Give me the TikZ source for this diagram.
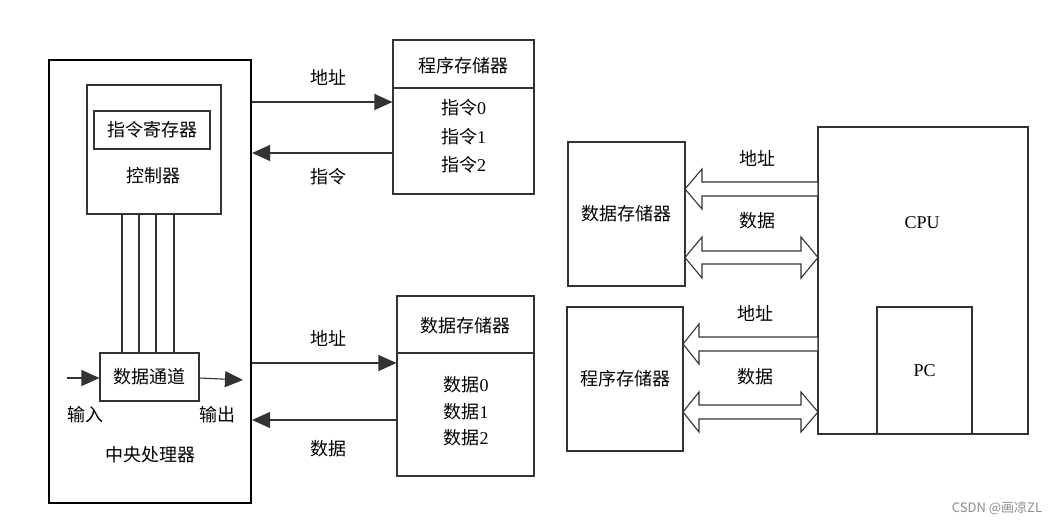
\documentclass[tikz,border=0pt]{standalone}
\usepackage{fontspec}
\setmainfont{Liberation Serif}
\newfontfamily\cjk{Noto Sans CJK SC}[Scale=1]
\usetikzlibrary{arrows.meta,calc}
\begin{document}
\begin{tikzpicture}[x=1pt,y=-1pt,
  line/.style={draw=black!80,line width=1.1pt},
  box/.style={line,rectangle,inner sep=0pt,font=\fontsize{18}{21}\selectfont},
  lbl/.style={inner sep=0pt,font=\fontsize{18}{21}\selectfont},
  arr/.style={line,-{Triangle[length=18pt,width=16pt]}},
  fat/.style={line,fill=white}]
\useasboundingbox (0,0) rectangle (1063,523);
% ---------- left: CPU ----------
\node[box,draw=black,line width=2.2pt,minimum width=202,minimum height=443] (cpu) at (150,281.5) {};
\node[box,minimum width=134,minimum height=129] (ctrl) at (154,149.5) {};
\node[box,minimum width=116,minimum height=38] (ir) at (152,130) {\cjk 指令寄存器};
\node[lbl] (ctrltxt) at (153,176) {\cjk 控制器};
\node[box,minimum width=99,minimum height=48] (dp) at (149.5,377) {\cjk 数据通道};
\foreach \xx in {122,139,156,174}
  \draw[line] (ctrl.south -| \xx,0) -- (dp.north -| \xx,0);
\coordinate (inp) at (67,378);
\coordinate (outp) at (243,380);
\draw[arr] (inp) -- (dp.west |- inp);
\draw[arr] (dp.east |- inp) -- (outp);
\node[lbl] (intxt) at (85,415) {\cjk 输入};
\node[lbl] (outtxt) at (217,415) {\cjk 输出};
\node[lbl] (cputxt) at (150,455) {\cjk 中央处理器};
% ---------- program memory ----------
\node[box,minimum width=141,minimum height=154] (pm) at (463.5,117) {};
\draw[line] (pm.west |- 0,88) -- (pm.east |- 0,88);
\node[lbl] (pmt) at (463.5,66) {\cjk 程序存储器};
\node[lbl] (pm0) at (463.5,108) {{\cjk 指令}0};
\node[lbl] (pm1) at (463.5,137) {{\cjk 指令}1};
\node[lbl] (pm2) at (463.5,165) {{\cjk 指令}2};
\draw[arr] (cpu.east |- 0,102) -- (pm.west |- 0,102);
\draw[arr] (pm.west |- 0,153) -- (cpu.east |- 0,153);
\node[lbl] (a1) at (328,77) {\cjk 地址};
\node[lbl] (i1) at (328,177) {\cjk 指令};
% ---------- data memory ----------
\node[box,minimum width=137,minimum height=180] (dm) at (465.5,386) {};
\draw[line] (dm.west |- 0,353) -- (dm.east |- 0,353);
\node[lbl] (dmt) at (465.5,326) {\cjk 数据存储器};
\node[lbl] (dm0) at (466,385) {{\cjk 数据}0};
\node[lbl] (dm1) at (466,412) {{\cjk 数据}1};
\node[lbl] (dm2) at (466,438) {{\cjk 数据}2};
\draw[arr] (cpu.east |- 0,363) -- (dm.west |- 0,363);
\draw[arr] (dm.west |- 0,420) -- (cpu.east |- 0,420);
\node[lbl] (a2) at (328,338) {\cjk 地址};
\node[lbl] (d2) at (328,449) {\cjk 数据};
% ---------- right: Harvard ----------
\node[box,minimum width=117,minimum height=144] (rdm) at (626.5,214) {\cjk 数据存储器};
\node[box,minimum width=116,minimum height=144] (rpm) at (625,379) {\cjk 程序存储器};
\node[box,minimum width=210,minimum height=307] (rcpu) at (923,280.5) {};
\node[lbl] (rcputxt) at (922,223) {CPU};
\node[box,minimum width=95,minimum height=127] (pc) at (924.5,370.5) {PC};
% hollow arrows
\draw[fat] (685,189) -- (702,169) -- (702,182) -- (818,182) -- (818,196) -- (702,196) -- (702,209) -- cycle;
\draw[fat] (685,257.5) -- (702,237) -- (702,251) -- (801,251) -- (801,237) -- (818,257.5) -- (801,278) -- (801,264) -- (702,264) -- (702,278) -- cycle;
\draw[fat] (683,344) -- (699,324) -- (699,337) -- (818,337) -- (818,351) -- (699,351) -- (699,364) -- cycle;
\draw[fat] (683,412) -- (699,392) -- (699,405) -- (801,405) -- (801,392) -- (818,412) -- (801,432) -- (801,419) -- (699,419) -- (699,432) -- cycle;
\node[lbl] (ra1) at (757,158) {\cjk 地址};
\node[lbl] (rd1) at (757,221) {\cjk 数据};
\node[lbl] (ra2) at (755,313) {\cjk 地址};
\node[lbl] (rd2) at (755,377) {\cjk 数据};
% watermark
\node[inner sep=0pt,text=black!45,font=\cjk\fontsize{13}{15}\selectfont] (wm) at (997,508) {CSDN @画凉ZL};
\end{tikzpicture}
\end{document}
